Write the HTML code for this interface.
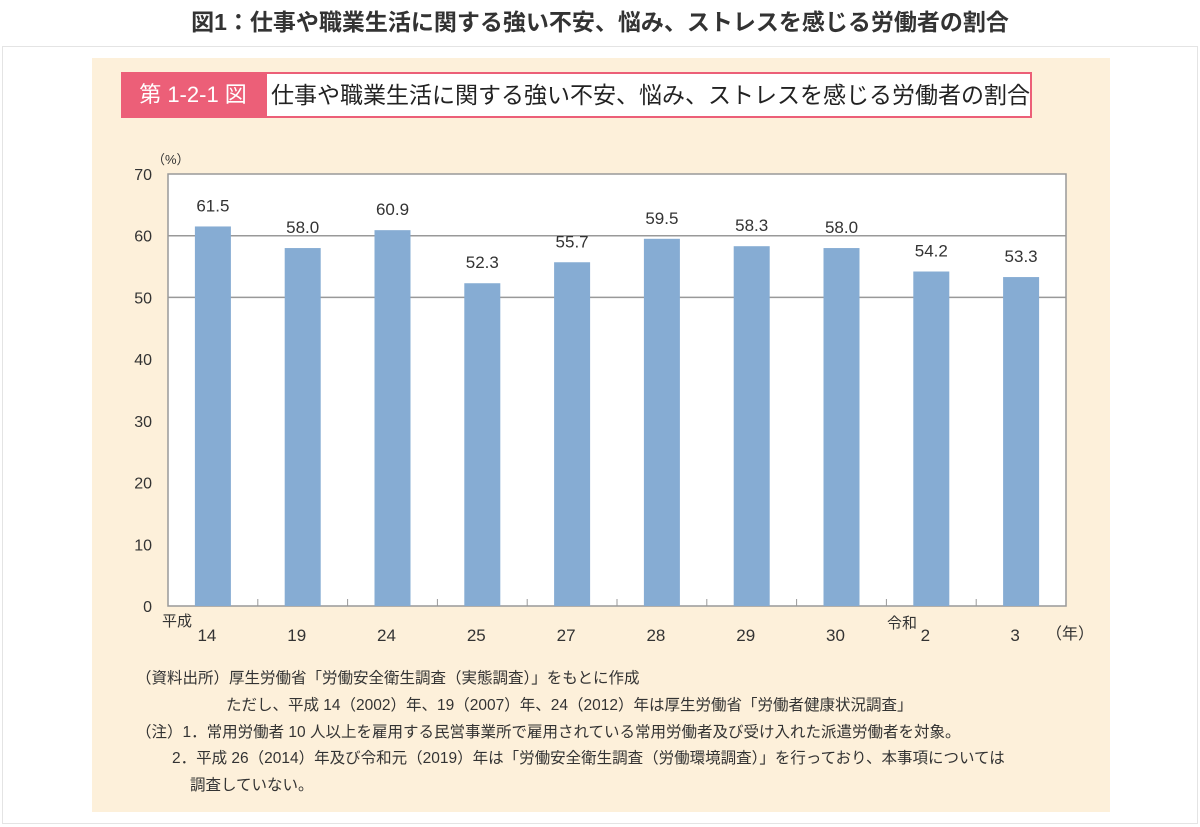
<!DOCTYPE html>
<html><head><meta charset="utf-8"><style>
body{margin:0;width:1200px;height:827px;background:#fff;font-family:"Liberation Sans","Noto Sans CJK JP",sans-serif;position:relative;overflow:hidden}
.a{position:absolute}
</style></head><body>
<div class="a" style="left:0;top:3px;width:1200px;text-align:center;font-size:23px;font-weight:bold;color:#333">図1：仕事や職業生活に関する強い不安、悩み、ストレスを感じる労働者の割合</div>
<div class="a" style="left:2px;top:46px;width:1194px;height:776px;border:1px solid #e4e4e4;background:#fff"></div>
<div class="a" style="left:92px;top:58px;width:1018px;height:754px;background:#fdf0da"></div>
<div class="a" style="left:121px;top:72px;width:144px;height:46px;background:#ec5f78;color:#fff;font-size:22px;line-height:46px;text-align:center">第 1-2-1 図</div>
<div class="a" style="left:265px;top:72px;width:759px;height:42px;border:2px solid #ec5f78;background:#fff;font-size:23px;line-height:42px;padding-left:4px;color:#222;box-sizing:content-box;white-space:nowrap">仕事や職業生活に関する強い不安、悩み、ストレスを感じる労働者の割合</div>
<svg class="a" style="left:0;top:0" width="1200" height="827" id="chart"></svg>
<div class="a" style="left:136px;top:666px;font-size:15.5px;line-height:26.8px;color:#333;white-space:nowrap">
<div>（資料出所）厚生労働省「労働安全衛生調査（実態調査）」をもとに作成</div>
<div style="padding-left:90px">ただし、平成 14（2002）年、19（2007）年、24（2012）年は厚生労働省「労働者健康状況調査」</div>
<div>（注）1．常用労働者 10 人以上を雇用する民営事業所で雇用されている常用労働者及び受け入れた派遣労働者を対象。</div>
<div style="padding-left:36px">2．平成 26（2014）年及び令和元（2019）年は「労働安全衛生調査（労働環境調査）」を行っており、本事項については</div>
<div style="padding-left:54px">調査していない。</div>
</div>
<script>
const categories=["14","19","24","25","27","28","29","30","2","3"];
const values=[61.5,58.0,60.9,52.3,55.7,59.5,58.3,58.0,54.2,53.3];
const yTicks=[0,10,20,30,40,50,60,70];
const gridValues=[50,60];
const svg=document.getElementById('chart');
const NS='http://www.w3.org/2000/svg';
const X0=168,X1=1066,Y0=606,Y1=174,YMAX=70;
const bw=(X1-X0)/categories.length;
function y(v){return Y0-(v/YMAX)*(Y0-Y1);}
function xc(i){return X0+bw*(i+0.5);}
function mk(t,a,txt){const e=document.createElementNS(NS,t);for(const k in a)e.setAttribute(k,a[k]);if(txt!==undefined)e.textContent=txt;svg.appendChild(e);return e;}
let e=mk('rect',{x:X0,y:Y1,width:X1-X0,height:Y0-Y1,fill:'#fff',stroke:'#999','stroke-width':1.5});


gridValues.forEach(v=>{
 const g=mk('line',{x1:X0,x2:X1,y1:y(v),y2:y(v),stroke:'#999','stroke-width':1.5});
 
 
});
yTicks.forEach(v=>{
 const t=mk('text',{x:X0-16,y:y(v)+6,'text-anchor':'end','font-size':16,fill:'#333'},String(v));
 
 
});
e=mk('text',{x:152,y:164,'font-size':13,fill:'#333'},'（%）');


for(let i=1;i<categories.length;i++){
 const tk=mk('line',{x1:X0+bw*i,x2:X0+bw*i,y1:Y0,y2:Y0-7,stroke:'#999','stroke-width':1});
 
 
}
categories.forEach((c,i)=>{
 const v=values[i];
 const b=mk('rect',{x:xc(i)-18,y:y(v),width:36,height:Y0-y(v),fill:'#86acd3'});
 
 
 const l=mk('text',{x:xc(i),y:y(v)-15,'text-anchor':'middle','font-size':17,fill:'#333'},v.toFixed(1));
 
 
 const t=mk('text',{x:xc(i)-6,y:641,'text-anchor':'middle','font-size':17,fill:'#333'},c);
 
 
});
e=mk('text',{x:162,y:626,'font-size':15,fill:'#333'},'平成');


e=mk('text',{x:887,y:628,'font-size':15,fill:'#333'},'令和');


e=mk('text',{x:1046,y:639,'font-size':16,fill:'#333'},'（年）');


</script>
</body></html>
